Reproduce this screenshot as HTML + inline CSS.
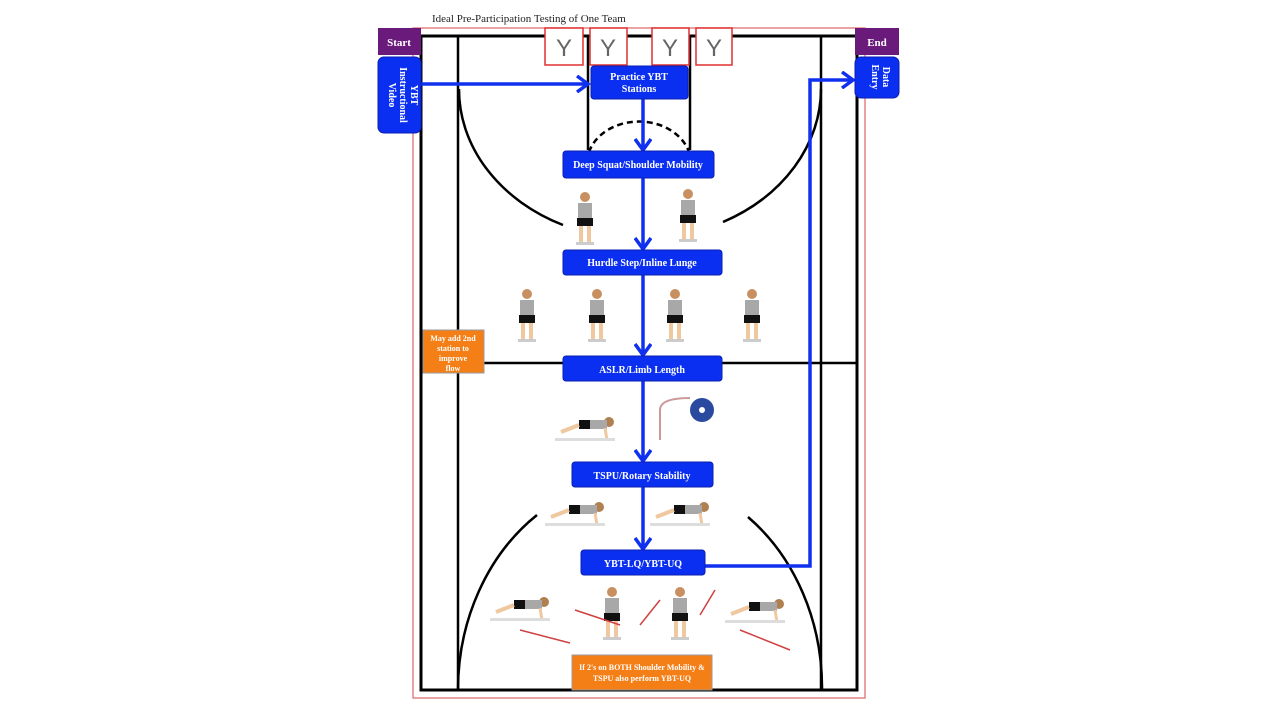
<!DOCTYPE html>
<html><head><meta charset="utf-8"><style>
html,body{margin:0;padding:0;background:#fff;}
svg{display:block}
text{font-family:"Liberation Serif",serif;}
.b{fill:#0a2ff0;stroke:#0a1fb0;stroke-width:1}
.bt{fill:#fff;font-weight:bold;font-size:10px;text-anchor:middle}
.o{fill:#f57f17;stroke:#999;stroke-width:1}
</style></head><body>
<svg width="1280" height="720" viewBox="0 0 1280 720">
<defs>
<marker id="ah" markerWidth="16" markerHeight="18" refX="12" refY="9" orient="auto" markerUnits="userSpaceOnUse">
<path d="M1,1 L12,9 L1,17" fill="none" stroke="#1030f0" stroke-width="3.5"/>
</marker>
<g id="fig">
<circle cx="0" cy="-28" r="5" fill="#c89060"/>
<rect x="-7" y="-22" width="14" height="16" fill="#a8a8a8"/>
<rect x="-8" y="-7" width="16" height="8" fill="#111"/>
<rect x="-6" y="1" width="4" height="16" fill="#f0c8a0"/>
<rect x="2" y="1" width="4" height="16" fill="#f0c8a0"/>
<rect x="-9" y="17" width="18" height="3" fill="#ccc"/>
</g>
<g id="hfig">
<circle cx="24" cy="-8" r="5" fill="#b08050"/>
<rect x="4" y="-10" width="18" height="9" fill="#a8a8a8"/>
<rect x="-6" y="-10" width="11" height="9" fill="#111"/>
<line x1="-6" y1="-5" x2="-24" y2="2" stroke="#f0c8a0" stroke-width="4"/>
<line x1="20" y1="-2" x2="22" y2="10" stroke="#f0c8a0" stroke-width="3"/>
<rect x="-30" y="8" width="60" height="3" fill="#ddd"/>
</g>
</defs>
<text x="432" y="22" font-size="11" fill="#222">Ideal Pre-Participation Testing of One Team</text>
<rect x="413" y="28" width="452" height="670" fill="none" stroke="#e07070" stroke-width="1.3"/>
<rect x="421" y="36" width="436" height="654" fill="none" stroke="#000" stroke-width="3"/>
<line x1="458" y1="36" x2="458" y2="690" stroke="#000" stroke-width="2.5"/>
<line x1="821" y1="36" x2="821" y2="690" stroke="#000" stroke-width="2.5"/>
<line x1="421" y1="363" x2="857" y2="363" stroke="#000" stroke-width="2.5"/>
<line x1="588" y1="36" x2="588" y2="150" stroke="#000" stroke-width="2.5"/>
<line x1="690" y1="36" x2="690" y2="150" stroke="#000" stroke-width="2.5"/>
<path d="M459 89 A181 150 0 0 0 563 225" fill="none" stroke="#000" stroke-width="2.5"/>
<path d="M723 222 A181 150 0 0 0 821 89" fill="none" stroke="#000" stroke-width="2.5"/>
<path d="M589 152 A52 42 0 0 1 689 152" fill="none" stroke="#000" stroke-width="2.5" stroke-dasharray="6,4"/>
<path d="M458 690 A182 212 0 0 1 537 515" fill="none" stroke="#000" stroke-width="2.5"/>
<path d="M748 517 A182 212 0 0 1 822 690" fill="none" stroke="#000" stroke-width="2.5"/>
<g fill="#fff" stroke="#e03030" stroke-width="1.5">
<rect x="545" y="28" width="38" height="37"/><rect x="590" y="28" width="37" height="37"/>
<rect x="652" y="28" width="37" height="37"/><rect x="696" y="28" width="36" height="37"/>
</g>
<g font-size="24" fill="#666" text-anchor="middle">
<text x="564" y="56" style="font-family:'Liberation Sans',sans-serif">Y</text><text x="608" y="56" style="font-family:'Liberation Sans',sans-serif">Y</text>
<text x="670" y="56" style="font-family:'Liberation Sans',sans-serif">Y</text><text x="714" y="56" style="font-family:'Liberation Sans',sans-serif">Y</text>
</g>
<use href="#fig" x="585" y="225"/><use href="#fig" x="688" y="222"/>
<use href="#fig" x="527" y="322"/><use href="#fig" x="597" y="322"/>
<use href="#fig" x="675" y="322"/><use href="#fig" x="752" y="322"/>
<use href="#hfig" x="585" y="430"/>
<circle cx="702" cy="410" r="12" fill="#2a4aa0"/><circle cx="702" cy="410" r="3" fill="#fff"/>
<path d="M660 440 L660 410 Q660 398 690 398" fill="none" stroke="#c99" stroke-width="2"/>
<use href="#hfig" x="575" y="515"/><use href="#hfig" x="680" y="515"/>
<use href="#hfig" x="520" y="610"/><use href="#fig" x="612" y="620"/>
<use href="#fig" x="680" y="620"/><use href="#hfig" x="755" y="612"/>
<g stroke="#d04040" stroke-width="1.5">
<line x1="575" y1="610" x2="620" y2="625"/><line x1="640" y1="625" x2="660" y2="600"/>
<line x1="520" y1="630" x2="570" y2="643"/><line x1="740" y1="630" x2="790" y2="650"/>
<line x1="700" y1="615" x2="715" y2="590"/>
</g>
<g stroke="#1030f0" stroke-width="3.5" fill="none">
<line x1="421" y1="84" x2="588" y2="84" marker-end="url(#ah)"/>
<line x1="643" y1="99" x2="643" y2="150" marker-end="url(#ah)"/>
<line x1="643" y1="178" x2="643" y2="249" marker-end="url(#ah)"/>
<line x1="643" y1="275" x2="643" y2="355" marker-end="url(#ah)"/>
<line x1="643" y1="381" x2="643" y2="461" marker-end="url(#ah)"/>
<line x1="643" y1="487" x2="643" y2="549" marker-end="url(#ah)"/>
<polyline points="705,566 810,566 810,80 853,80" marker-end="url(#ah)"/>
</g>
<rect x="378" y="28" width="43" height="27" fill="#6a1a7a"/>
<text x="399" y="46" fill="#fff" font-weight="bold" font-size="11" text-anchor="middle">Start</text>
<rect x="855" y="28" width="44" height="27" fill="#6a1a7a"/>
<text x="877" y="46" fill="#fff" font-weight="bold" font-size="11" text-anchor="middle">End</text>
<rect class="b" x="378" y="57" width="43" height="76" rx="6"/>
<text class="bt" transform="translate(411,95) rotate(90)">YBT</text>
<text class="bt" transform="translate(400,95) rotate(90)">Instructional</text>
<text class="bt" transform="translate(389,95) rotate(90)">Video</text>
<rect class="b" x="855" y="57" width="44" height="41" rx="6"/>
<text class="bt" transform="translate(883,77) rotate(90)">Data</text>
<text class="bt" transform="translate(872,77) rotate(90)">Entry</text>
<rect class="b" x="591" y="66" width="97" height="33" rx="3"/>
<text class="bt" x="639" y="80">Practice YBT</text><text class="bt" x="639" y="92">Stations</text>
<rect class="b" x="563" y="151" width="151" height="27" rx="3"/>
<text class="bt" x="638" y="168">Deep Squat/Shoulder Mobility</text>
<rect class="b" x="563" y="250" width="159" height="25" rx="3"/>
<text class="bt" x="642" y="266">Hurdle Step/Inline Lunge</text>
<rect class="b" x="563" y="356" width="159" height="25" rx="3"/>
<text class="bt" x="642" y="373">ASLR/Limb Length</text>
<rect class="b" x="572" y="462" width="141" height="25" rx="3"/>
<text class="bt" x="642" y="479">TSPU/Rotary Stability</text>
<rect class="b" x="581" y="550" width="124" height="25" rx="3"/>
<text class="bt" x="643" y="567">YBT-LQ/YBT-UQ</text>
<rect class="o" x="423" y="330" width="61" height="43"/>
<text class="bt" x="453" y="341" style="font-size:8px">May add 2nd</text>
<text class="bt" x="453" y="351" style="font-size:8px">station to</text>
<text class="bt" x="453" y="361" style="font-size:8px">improve</text>
<text class="bt" x="453" y="371" style="font-size:8px">flow</text>
<rect class="o" x="572" y="655" width="140" height="35"/>
<text class="bt" x="642" y="670" style="font-size:8px">If 2's on BOTH Shoulder Mobility &amp;</text>
<text class="bt" x="642" y="681" style="font-size:8px">TSPU also perform YBT-UQ</text>
</svg>
</body></html>
